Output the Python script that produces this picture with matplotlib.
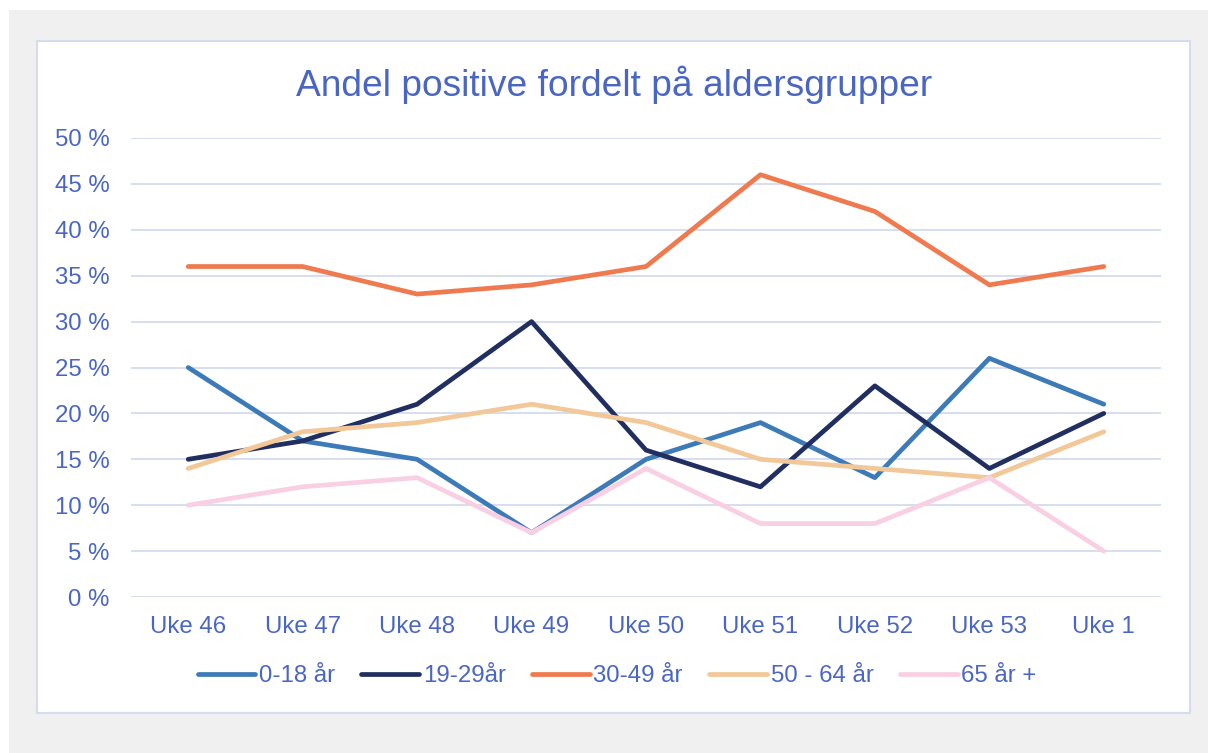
import matplotlib.pyplot as plt
from matplotlib.patches import Rectangle
from matplotlib.ticker import FuncFormatter

uker = ['Uke 46', 'Uke 47', 'Uke 48', 'Uke 49', 'Uke 50', 'Uke 51', 'Uke 52', 'Uke 53', 'Uke 1']
grp_0_18 = [25, 17, 15, 7, 15, 19, 13, 26, 21]
grp_19_29 = [15, 17, 21, 30, 16, 12, 23, 14, 20]
grp_30_49 = [36, 36, 33, 34, 36, 46, 42, 34, 36]
grp_50_64 = [14, 18, 19, 21, 19, 15, 14, 13, 18]
grp_65 = [10, 12, 13, 7, 14, 8, 8, 13, 5]

navn = ['0-18 år', '19-29år', '30-49 år', '50 - 64 år', '65 år +']
farger = ['#3d7ab8', '#212f60', '#f07a4f', '#f2c898', '#f9cfe3']
tekst = '#4a66c4'
grid = '#d3dbf0'

plt.rcParams['font.family'] = ['Liberation Sans', 'DejaVu Sans']

fig = plt.figure(figsize=(12.08, 7.53), dpi=100)
W, H = 1208, 753

# bakgrunn: grå flate og hvit boks med kant
fig.patches.append(Rectangle((9 / W, 0), 1 - 9 / W, 1 - 10 / H, transform=fig.transFigure,
                             facecolor='#f0f0f0', edgecolor='none', zorder=-2))
fig.patches.append(Rectangle((37 / W, 1 - 713 / H), (1190 - 37) / W, (713 - 41) / H,
                             transform=fig.transFigure, facecolor='white',
                             edgecolor='#d4dcf0', linewidth=1.5, zorder=-1))

ax = fig.add_axes([131 / W, 1 - 597 / H, (1161 - 131) / W, (597 - 138) / H])
ax.patch.set_alpha(0)

x = range(len(uker))
serier = [grp_0_18, grp_19_29, grp_30_49, grp_50_64, grp_65]
for verdier, n, c in zip(serier, navn, farger):
    ax.plot(x, verdier, color=c, linewidth=3.4, label=n, solid_capstyle='round',
            solid_joinstyle='round', zorder=3)

ax.set_xlim(-0.5, len(uker) - 0.5)
ax.set_ylim(0, 50)
ax.set_yticks(range(0, 51, 5))
ax.yaxis.set_major_formatter(FuncFormatter(lambda v, p: f'{int(v)} %'))
ax.set_xticks(list(x))
ax.set_xticklabels(uker)
ax.grid(axis='y', color=grid, linewidth=1.3)
ax.set_axisbelow(True)
for s in ax.spines.values():
    s.set_visible(False)
ax.tick_params(length=0, labelsize=17.3, labelcolor=tekst)
ax.tick_params(axis='y', pad=15.5)
ax.tick_params(axis='x', pad=14)

fig.text(614 / W, 1 - 85 / H, 'Andel positive fordelt på aldersgrupper', ha='center', va='center',
         fontsize=26.7, color=tekst)

leg = fig.legend(loc='center', bbox_to_anchor=(617 / W, 1 - 676 / H), ncol=5, frameon=False,
                 fontsize=17.3, handlelength=2.4, handletextpad=0.15, columnspacing=1.1,
                 labelcolor=tekst)

fig.savefig('out.png', dpi=100)
